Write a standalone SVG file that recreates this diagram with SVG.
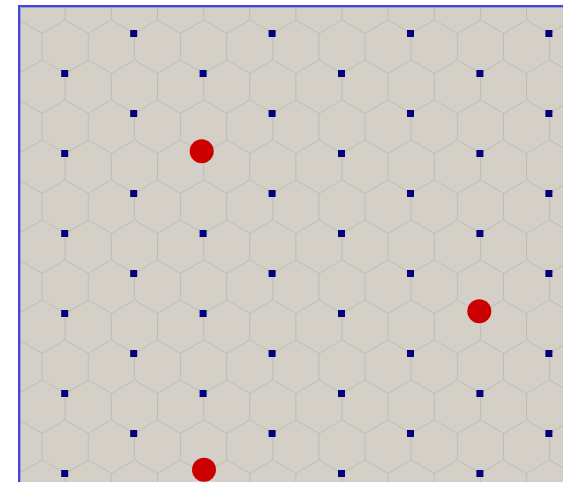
<svg xmlns="http://www.w3.org/2000/svg" xmlns:xlink="http://www.w3.org/1999/xlink" width="563" height="482" viewBox="0 0 563 482">
<style>
.hex{fill:none;stroke:#bfbcb5;stroke-width:1}
.sq{fill:#000080}
.dot{fill:#cc0000}
</style>
<defs>
<clipPath id="area"><rect x="20" y="7" width="543" height="475"/></clipPath>
<path id="band" class="hex" d="M-4,33.33 L19.06,20 L42.13,33.33 L65.2,20 L88.26,33.33 L111.33,20 L134.4,33.33 L157.46,20 L180.53,33.33 L203.6,20 L226.66,33.33 L249.73,20 L272.8,33.33 L295.87,20 L318.93,33.33 L342,20 L365.07,33.33 L388.13,20 L411.2,33.33 L434.27,20 L457.33,33.33 L480.4,20 L503.47,33.33 L526.53,20 L549.6,33.33 L572.67,20 M-4,60 L19.06,73.33 L42.13,60 L65.2,73.33 L88.26,60 L111.33,73.33 L134.4,60 L157.46,73.33 L180.53,60 L203.6,73.33 L226.66,60 L249.73,73.33 L272.8,60 L295.87,73.33 L318.93,60 L342,73.33 L365.07,60 L388.13,73.33 L411.2,60 L434.27,73.33 L457.33,60 L480.4,73.33 L503.47,60 L526.53,73.33 L549.6,60 L572.67,73.33 M-4,33.33V60 M42.13,33.33V60 M88.26,33.33V60 M134.4,33.33V60 M180.53,33.33V60 M226.66,33.33V60 M272.8,33.33V60 M318.93,33.33V60 M365.07,33.33V60 M411.2,33.33V60 M457.33,33.33V60 M503.47,33.33V60 M549.6,33.33V60 M19.06,73.33V100 M65.2,73.33V100 M111.33,73.33V100 M157.46,73.33V100 M203.6,73.33V100 M249.73,73.33V100 M295.87,73.33V100 M342,73.33V100 M388.13,73.33V100 M434.27,73.33V100 M480.4,73.33V100 M526.53,73.33V100 M572.67,73.33V100"/>
<g id="rowA"><rect class="sq" x="130.2" y="0" width="7" height="7"/><rect class="sq" x="268.6" y="0" width="7" height="7"/><rect class="sq" x="407" y="0" width="7" height="7"/><rect class="sq" x="545.4" y="0" width="7" height="7"/></g>
<g id="rowB"><rect class="sq" x="61.2" y="0" width="7" height="7"/><rect class="sq" x="199.6" y="0" width="7" height="7"/><rect class="sq" x="338" y="0" width="7" height="7"/><rect class="sq" x="476.4" y="0" width="7" height="7"/></g>
</defs>
<g id="board">
<rect x="20" y="7" width="543" height="475" fill="#d4d0c8"/>
<g id="hexgrid" clip-path="url(#area)">
<use xlink:href="#band" transform="translate(0,-80)"/>
<use xlink:href="#band"/>
<use xlink:href="#band" transform="translate(0,80)"/>
<use xlink:href="#band" transform="translate(0,160)"/>
<use xlink:href="#band" transform="translate(0,240)"/>
<use xlink:href="#band" transform="translate(0,320)"/>
<use xlink:href="#band" transform="translate(0,400)"/>
</g>
<path d="M19,482 V6 H563" fill="none" stroke="#4646d2" stroke-width="2"/>
<path d="M20.5,482 V7.5 H563" fill="none" stroke="#9c9ce2" stroke-width="1"/>
</g>
<g id="markers">
<use xlink:href="#rowA" y="30"/>
<use xlink:href="#rowB" y="70"/>
<use xlink:href="#rowA" y="110"/>
<use xlink:href="#rowB" y="150"/>
<use xlink:href="#rowA" y="190"/>
<use xlink:href="#rowB" y="230"/>
<use xlink:href="#rowA" y="270"/>
<use xlink:href="#rowB" y="310"/>
<use xlink:href="#rowA" y="350"/>
<use xlink:href="#rowB" y="390"/>
<use xlink:href="#rowA" y="430"/>
<use xlink:href="#rowB" y="470"/>
</g>
<g id="piece1"><circle class="dot" cx="201.7" cy="151.2" r="12"/></g>
<g id="piece2"><circle class="dot" cx="479.3" cy="311.2" r="12"/></g>
<g id="piece3"><circle class="dot" cx="204" cy="469.7" r="12"/></g>
</svg>
